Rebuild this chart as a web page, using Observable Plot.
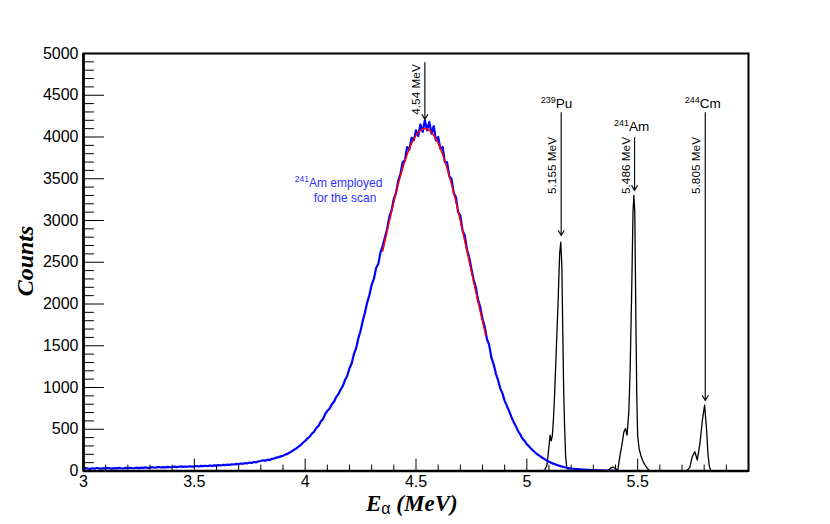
<!DOCTYPE html>
<html><head><meta charset="utf-8">
<script src="https://cdn.jsdelivr.net/npm/d3@7"></script>
<script src="https://cdn.jsdelivr.net/npm/@observablehq/plot@0.6"></script>
<style>body{margin:0;background:#fff}</style>
</head><body><div id="chart"></div>
<script>
// --- blue histogram (241Am source used for the scan), bins of 0.01 MeV starting at 3.00 MeV
const blueStart = 3.00;
const blueStep = 0.01;
const blueCounts = [
  28,35,30,26,33,29,36,31,27,34,
  30,37,32,28,35,31,38,33,30,37,
  34,39,33,36,41,35,40,37,43,38,
  41,46,39,44,48,42,47,44,50,45,
  48,53,46,51,55,49,54,51,57,52,
  55,60,54,61,58,63,59,66,62,68,
  65,71,66,74,70,77,73,81,78,85,
  82,90,86,95,92,101,98,108,104,116,
  120,128,124,136,131,146,150,160,166,175,
  182,196,205,222,236,255,270,292,310,338,
  360,388,410,448,470,515,540,590,620,680,
  720,745,800,830,885,920,975,1020,1090,1140,
  1230,1290,1400,1470,1590,1680,1800,1900,2020,2110,
  2230,2300,2430,2480,2620,2700,2800,2900,3050,3120,
  3260,3330,3480,3560,3700,3720,3880,3850,3990,3960,
  4080,4010,4150,4060,4200,4080,4180,4040,4130,3960,
  4000,3860,3880,3700,3700,3530,3500,3330,3280,3100,
  3060,2880,2820,2650,2560,2420,2290,2200,2050,1960,
  1820,1730,1580,1510,1360,1280,1170,1090,990,930,
  840,780,720,650,590,540,480,440,390,360,
  320,295,265,240,215,195,178,158,142,126,
  112,100,88,78,68,60,52,45,39,34,
  30,27,24,22,20,18,16,14,13,12,
  11,10,9,8,7,6,5,4,4,3,
  3
];

// --- red fit curve
const fitEnergy = [4.35,4.375,4.40,4.425,4.45,4.475,4.50,4.525,4.55,4.575,4.60,4.625,4.65,4.675,4.70,4.725,4.75,4.775,4.80,4.815];
const fitCounts = [2635,2936,3224,3486,3712,3893,4020,4089,4095,4039,3923,3753,3535,3280,2997,2695,2389,2083,1791,1622];

// --- black triple-alpha calibration spectrum
const blackEnergy = [5.04,5.07,5.08,5.09,5.095,5.10,5.105,5.11,5.115,5.12,5.125,5.13,5.14,5.148,5.153,5.158,5.162,5.166,5.17,5.175,5.18,5.19,5.20,
  5.36,5.37,5.38,5.39,5.40,5.41,5.42,5.43,5.438,5.445,5.452,5.46,5.466,5.474,5.479,5.483,5.487,5.492,5.496,5.500,5.507,5.515,5.525,5.536,5.55,5.56,
  5.72,5.735,5.746,5.758,5.769,5.781,5.792,5.802,5.811,5.817,5.823,5.83,5.99];
const blackCounts = [0,0,10,60,170,300,430,360,420,620,900,1250,1950,2600,2740,2450,1700,1000,560,180,40,5,0,
  0,15,40,45,30,5,180,330,470,510,430,700,1200,2300,3100,3300,3100,1800,900,420,260,180,110,60,10,0,
  0,40,170,230,130,330,610,790,490,210,60,0,0];

// --- annotations
const arrowEnergy = [4.54, 5.155, 5.486, 5.805];
const arrowTop = [4892, 4293, 3994, 4293];
const arrowTip = [4210, 2820, 3359, 844];
const arrowLabel = ["4.54 MeV", "5.155 MeV", "5.486 MeV", "5.805 MeV"];
const arrowLabelY = [4569, 3659, 3659, 3659];
const isotopeMass = ["239", "241", "244"];
const isotopeName = ["Pu", "Am", "Cm"];
const isotopeEnergy = [5.155, 5.486, 5.805];
const isotopeY = [4341, 4066, 4347];
const noteMass = "241";
const noteLines = ["Am employed", "for the scan"];
const noteEnergy = [4.153, 4.182];
const noteY = [3399, 3219];

// --- axes
const xTicks = [3, 3.5, 4, 4.5, 5, 5.5];
const yTicks = [0, 500, 1000, 1500, 2000, 2500, 3000, 3500, 4000, 4500, 5000];
const xMinor = d3.range(31, 60).map(v => v / 10).filter(v => Math.round(v * 10) % 5 !== 0);
const yMinor = d3.range(100, 5000, 100).filter(v => v % 500 !== 0);

const tickShape = {draw(context, l) { context.moveTo(0, 0); context.lineTo(0, -l); }};

const plot = Plot.plot({
  width: 830, height: 524,
  marginLeft: 83, marginRight: 82, marginTop: 53, marginBottom: 53.5,
  x: {domain: [3, 6]},
  y: {domain: [0, 5000]},
  style: {fontFamily: "'Liberation Sans', Arial, sans-serif", background: "white", color: "black"},
  marks: [
    Plot.axisX(xTicks, {tickSize: 0, tickPadding: 5, fontSize: 16, tickFormat: d => String(d), label: null}),
    Plot.axisY(yTicks, {tickSize: 0, tickPadding: 5, fontSize: 16, tickFormat: d => String(d), label: null}),
    Plot.line(blackCounts, {x: (d, i) => blackEnergy[i], y: d => d, stroke: "black", strokeWidth: 1.3}),
    Plot.line(blueCounts, {x: (d, i) => blueStart + i * blueStep, y: d => d, curve: "linear", stroke: "#0000ff", strokeWidth: 2.2}),
    Plot.line(fitCounts, {x: (d, i) => fitEnergy[i], y: d => d, curve: "natural", stroke: "#ff0000", strokeWidth: 1.5}),
    Plot.vector(yTicks, {y: d => d, frameAnchor: "left", rotate: 90, length: 20, anchor: "start", shape: tickShape, stroke: "black", strokeWidth: 1}),
    Plot.vector(yMinor, {y: d => d, frameAnchor: "left", rotate: 90, length: 10, anchor: "start", shape: tickShape, stroke: "black", strokeWidth: 1}),
    Plot.vector(xTicks, {x: d => d, frameAnchor: "bottom", rotate: 0, length: 12, anchor: "start", shape: tickShape, stroke: "black", strokeWidth: 1}),
    Plot.vector(xMinor, {x: d => d, frameAnchor: "bottom", rotate: 0, length: 6, anchor: "start", shape: tickShape, stroke: "black", strokeWidth: 1}),
    Plot.frame({stroke: "black", strokeWidth: 2}),
    Plot.ruleX([3], {stroke: "black", strokeWidth: 2.6}),
    Plot.ruleY([0], {stroke: "black", strokeWidth: 2.6}),
    Plot.arrow(arrowEnergy, {x1: d => d, x2: d => d, y1: (d, i) => arrowTop[i], y2: (d, i) => arrowTip[i], headLength: 7, headAngle: 60, stroke: "#111", strokeWidth: 1.2}),
    Plot.text(arrowLabel, {x: (d, i) => arrowEnergy[i], y: (d, i) => arrowLabelY[i], text: d => d, rotate: -90, dx: -5, lineAnchor: "bottom", textAnchor: "middle", fontSize: 11.8, fill: "black"})
  ]
});

document.getElementById("chart").appendChild(plot);

const sx = plot.scale("x"), sy = plot.scale("y");
const svg = d3.select(plot);
const g = svg.append("g").attr("font-family", "'Liberation Sans', Arial, sans-serif").attr("text-anchor", "start");

// isotope labels with superscript mass numbers
isotopeName.forEach((name, i) => {
  const t = g.append("text")
    .attr("x", sx.apply(isotopeEnergy[i]) - 20)
    .attr("y", sy.apply(isotopeY[i]))
    .attr("text-anchor", "start")
    .attr("fill", "black");
  t.append("tspan").attr("font-size", 9).attr("dy", -5).text(isotopeMass[i]);
  t.append("tspan").attr("font-size", 13.5).attr("dy", 5).text(name);
});

// blue note
const n1 = g.append("text")
  .attr("x", sx.apply(noteEnergy[0])).attr("y", sy.apply(noteY[0]))
  .attr("text-anchor", "middle").attr("fill", "#3030ff");
n1.append("tspan").attr("font-size", 8.5).attr("dy", -5).text(noteMass);
n1.append("tspan").attr("font-size", 12).attr("dy", 5).text(noteLines[0]);
g.append("text")
  .attr("x", sx.apply(noteEnergy[1])).attr("y", sy.apply(noteY[1]))
  .attr("text-anchor", "middle").attr("fill", "#3030ff").attr("font-size", 12)
  .text(noteLines[1]);

// axis titles
g.append("text")
  .attr("transform", "translate(33,261) rotate(-90)")
  .attr("text-anchor", "middle")
  .attr("font-family", "'Liberation Serif', 'Times New Roman', serif")
  .attr("font-weight", "bold").attr("font-style", "italic").attr("font-size", 24)
  .attr("fill", "black")
  .text("Counts");

const xt = g.append("text")
  .attr("x", 366).attr("y", 511)
  .attr("text-anchor", "start")
  .attr("fill", "black");
xt.append("tspan")
  .attr("font-family", "'Liberation Serif', 'Times New Roman', serif")
  .attr("font-weight", "bold").attr("font-style", "italic").attr("font-size", 23)
  .text("E");
xt.append("tspan")
  .attr("font-family", "'Liberation Sans', Arial, sans-serif")
  .attr("font-size", 16).attr("dy", 3)
  .text("α");
xt.append("tspan")
  .attr("font-family", "'Liberation Serif', 'Times New Roman', serif")
  .attr("font-weight", "bold").attr("font-style", "italic").attr("font-size", 23)
  .attr("dy", -3)
  .text(" (MeV)");
</script>
</body></html>
